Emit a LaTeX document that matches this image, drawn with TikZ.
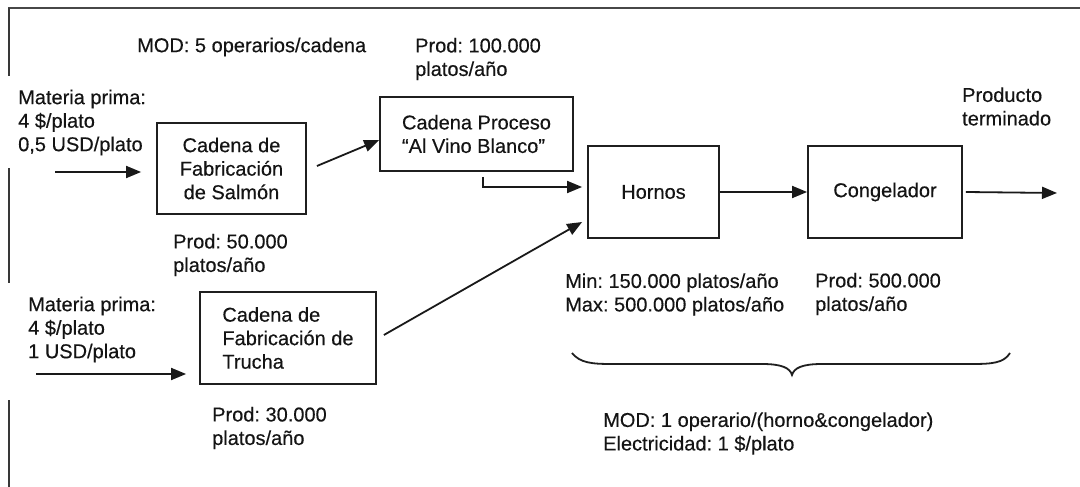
\documentclass[tikz,border=0pt]{standalone}
\usepackage{fontspec}
\setmainfont{Liberation Sans}[UprightFeatures={FakeBold=0.35}]
\usetikzlibrary{arrows.meta}
\newcommand\fsz{\fontsize{20pt}{23.5pt}\selectfont\frenchspacing}
\begin{document}
\begin{tikzpicture}[x=1pt,y=-1pt,
  every node/.style={font=\fsz, text=black!92},
  box/.style={draw=black!88, line width=1.8pt, inner sep=0pt},
  lbl/.style={anchor=west, inner sep=0pt, align=left},
  arr/.style={draw=black!90, line width=1.8pt, -{Triangle[length=15pt,width=12pt]}}]
\useasboundingbox (0,0) rectangle (1080,487);
% frame
\draw[black!72, line width=2pt] (8,8) -- (1080,8);
\draw[black!78, line width=1.8pt] (9,8) -- (9,76) (9,168) -- (9,283) (9,400) -- (9,487);
% boxes
\node[box, minimum width=149pt, minimum height=91pt, align=center] (salmon) at (231.5,168.5) {Cadena de\\Fabricación\\de Salmón};
\node[box, minimum width=193pt, minimum height=74pt, align=left] (proceso) at (476.5,134) {Cadena Proceso\\“Al Vino Blanco”};
\node[box, minimum width=131pt, minimum height=92pt] (hornos) at (653.5,192) {Hornos};
\node[box, minimum width=154pt, minimum height=92pt] (congel) at (885,192) {Congelador};
\node[box, minimum width=176pt, minimum height=92pt, align=left] (trucha) at (288,338) {Cadena de\\Fabricación de\\Trucha};
% labels
\node[lbl] (mod5) at (137,47) {MOD: 5 operarios/cadena};
\node[lbl] (prod100) at (415,59) {Prod: 100.000\\platos/año};
\node[lbl] (mp1) at (18,122.5) {Materia prima:\\4 \$/plato\\0,5 USD/plato};
\node[lbl] (prod50) at (173,255) {Prod: 50.000\\platos/año};
\node[lbl] (mp2) at (28,329.5) {Materia prima:\\4 \$/plato\\1 USD/plato};
\node[lbl] (prod30) at (212,428) {Prod: 30.000\\platos/año};
\node[lbl] (minmax) at (565,294.5) {Min: 150.000 platos/año\\Max: 500.000 platos/año};
\node[lbl] (prod500) at (815,294) {Prod: 500.000\\platos/año};
\node[lbl] (prodterm) at (962,106.5) {Producto\\terminado};
\node[lbl] (mod1) at (603,433.5) {MOD: 1 operario/(horno\&congelador)\\Electricidad: 1 \$/plato};
% free ends
\coordinate (in1) at (55,172);
\coordinate (in2) at (36,374);
\coordinate (out) at (1057,193);
% connectors
\draw[arr, shorten >=15pt] (in1) -- (in1 -| salmon.west);
\draw[arr, shorten >=13pt] (in2) -- (in2 -| trucha.west);
\draw[arr] ([xshift=10pt,yshift=2.5pt]salmon.east) -- ([yshift=-6pt]proceso.west);
\draw[arr] ([xshift=6.5pt,yshift=-5pt]proceso.south) |- ([xshift=-5pt,yshift=5pt]hornos.west);
\draw[arr] ([xshift=7pt,yshift=3pt]trucha.east) -- ([xshift=-5pt,yshift=-30pt]hornos.west);
\draw[arr] (hornos.east) -- (congel.west);
\draw[arr] ([xshift=3pt]congel.east) -- (out);
% brace
\draw[black!88, line width=1.8pt] (572,353) .. controls (580,363) and (592,364) .. (612,364) -- (762,364) .. controls (782,364) and (790,368) .. (792,375) .. controls (794,368) and (802,364) .. (822,364) -- (972,364) .. controls (992,364) and (1004,363) .. (1010,353);
\end{tikzpicture}
\end{document}
